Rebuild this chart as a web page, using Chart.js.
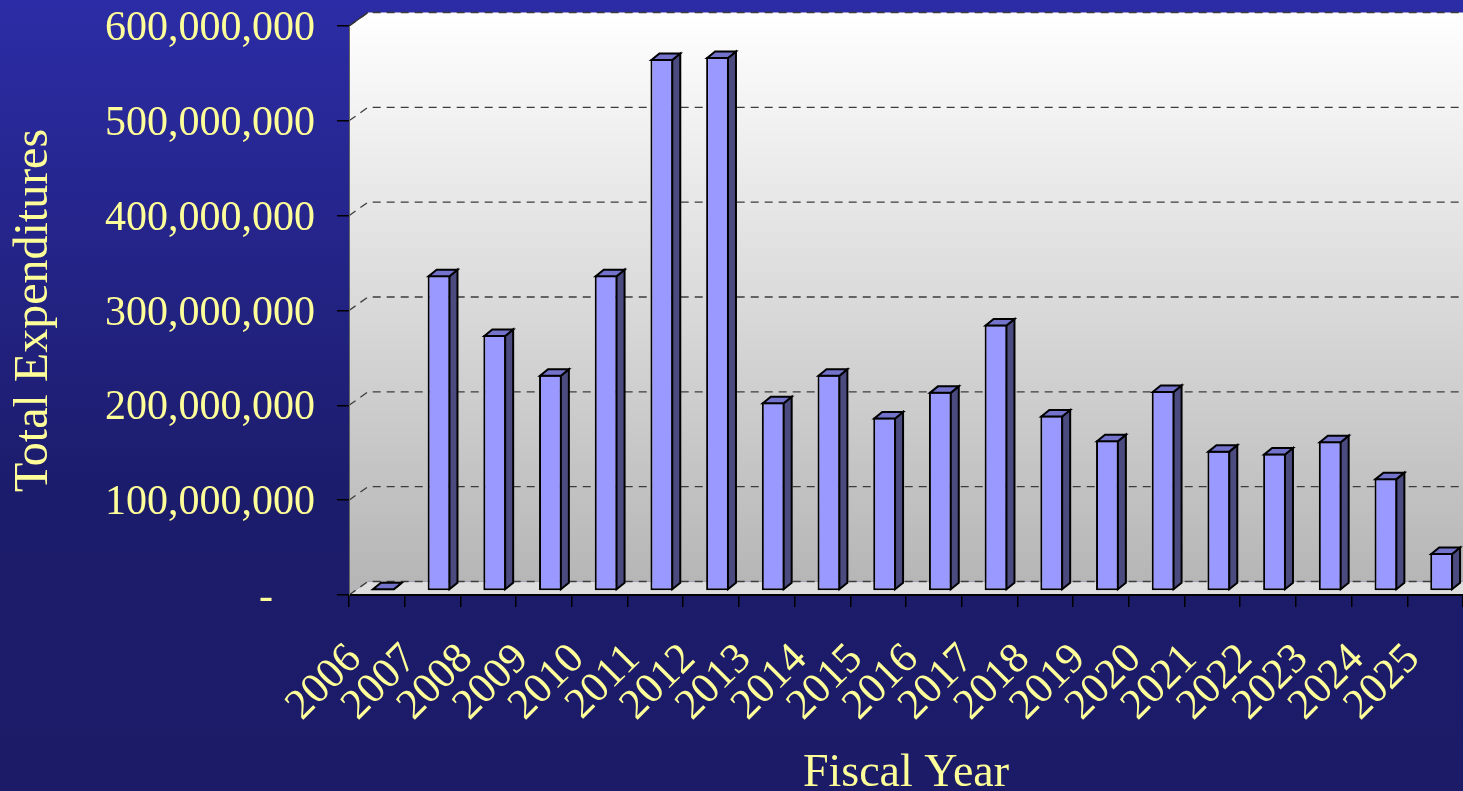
<!DOCTYPE html>
<html>
<head>
<meta charset="utf-8">
<title>Total Expenditures by Fiscal Year</title>
<script src="https://cdn.jsdelivr.net/npm/chart.js@4.4.1/dist/chart.umd.min.js"></script>
<style>
  html, body { margin: 0; padding: 0; background: #1B1B69; overflow: hidden; }
  #wrap { width: 1463px; height: 791px; position: relative; }
  canvas { display: block; }
</style>
</head>
<body>
<div id="wrap"><canvas id="chart" width="1463" height="791"></canvas></div>
<script>
// Fiscal years on the category axis
const fiscalYears = ['2006', '2007', '2008', '2009', '2010', '2011', '2012', '2013', '2014', '2015',
                     '2016', '2017', '2018', '2019', '2020', '2021', '2022', '2023', '2024', '2025'];

// Total expenditures per fiscal year (dollars)
const totalExpenditures = [1000000, 333000000, 270000000, 228000000, 333000000, 561000000, 563000000,
                           199000000, 228000000, 183000000, 210000000, 281000000, 185000000, 159000000,
                           211000000, 148000000, 145000000, 158000000, 119000000, 40000000];

// Value axis ticks and their printed labels
const yTickValues = [0, 100000000, 200000000, 300000000, 400000000, 500000000, 600000000];
const yTickLabels = ['-    ', '100,000,000', '200,000,000', '300,000,000', '400,000,000', '500,000,000', '600,000,000'];

const TEXT = '#FFFF99';
const SERIF = '"Liberation Serif", "Times New Roman", serif';

// Oblique projection used for the walls/floor and for the bar boxes
const WALL = { dx: 19, dy: -13.5 };
const BAR_SHIFT = { dx: 6.5, dy: -4 };
const BAR_DEPTH = { dx: 8, dy: -6.5 };

function poly(ctx, pts) {
  ctx.beginPath();
  ctx.moveTo(pts[0][0], pts[0][1]);
  for (let i = 1; i < pts.length; i++) ctx.lineTo(pts[i][0], pts[i][1]);
  ctx.closePath();
}

const scenePlugin = {
  id: 'scene',
  beforeDraw(chart) {
    const { ctx, chartArea: a, width, height } = chart;
    const yScale = chart.scales.y;
    const L = a.left, R = a.right, T = a.top, B = a.bottom;
    const { dx, dy } = WALL;
    ctx.save();

    // page background
    const bg = ctx.createLinearGradient(0, 0, 0, height);
    bg.addColorStop(0, '#2C2CA6');
    bg.addColorStop(0.62, '#1C1C6C');
    bg.addColorStop(1, '#1B1B68');
    ctx.fillStyle = bg;
    ctx.fillRect(0, 0, width, height);

    // back wall and left side wall
    const wall = ctx.createLinearGradient(0, T + dy, 0, B + dy);
    wall.addColorStop(0, '#FFFFFF');
    wall.addColorStop(1, '#B6B6B6');
    ctx.fillStyle = wall;
    ctx.fillRect(L + dx, T + dy, R - L + 10, B - T);
    poly(ctx, [[L, T], [L + dx, T + dy], [L + dx, B + dy], [L, B]]);
    ctx.fill();

    // floor
    ctx.fillStyle = '#DEDEDE';
    poly(ctx, [[L, B], [L + dx, B + dy], [R + dx + 10, B + dy], [R + 10, B]]);
    ctx.fill();

    // dashed gridlines across the side wall and the back wall
    ctx.strokeStyle = '#3C3C3C';
    ctx.lineWidth = 1.3;
    ctx.setLineDash([8, 6]);
    yTickValues.forEach(v => {
      const py = yScale.getPixelForValue(v);
      ctx.beginPath();
      ctx.moveTo(L, py);
      ctx.lineTo(L + dx, py + dy);
      ctx.lineTo(R + dx + 10, py + dy);
      ctx.stroke();
    });

    // top-left edge of the side wall
    ctx.setLineDash([]);
    ctx.strokeStyle = '#333333';
    ctx.beginPath();
    ctx.moveTo(L, T);
    ctx.lineTo(L + dx, T + dy);
    ctx.stroke();
    ctx.restore();
  },
  beforeDatasetsDraw(chart) {
    chart.ctx.save();
    chart.ctx.translate(BAR_SHIFT.dx, BAR_SHIFT.dy);
  },
  afterDatasetsDraw(chart) {
    const ctx = chart.ctx;
    const meta = chart.getDatasetMeta(0);
    const { dx, dy } = BAR_DEPTH;
    ctx.lineWidth = 2;
    ctx.lineJoin = 'miter';
    ctx.strokeStyle = '#000000';
    meta.data.forEach(bar => {
      const p = bar.getProps(['x', 'y', 'base', 'width'], true);
      const l = p.x - p.width / 2 + 1;
      const r = p.x + p.width / 2 - 1;
      const b = p.base - 1;
      const t = Math.min(p.y + 1, b);
      // side face
      ctx.fillStyle = '#4B4B80';
      poly(ctx, [[r, t], [r + dx, t + dy], [r + dx, b + dy], [r, b]]);
      ctx.fill();
      ctx.stroke();
      // top face
      ctx.fillStyle = '#7373CC';
      poly(ctx, [[l, t], [l + dx, t + dy], [r + dx, t + dy], [r, t]]);
      ctx.fill();
      ctx.stroke();
    });
    ctx.restore();
  }
};

new Chart(document.getElementById('chart'), {
  type: 'bar',
  data: {
    labels: fiscalYears,
    datasets: [{
      label: 'Total Expenditures',
      data: totalExpenditures,
      backgroundColor: '#9999FF',
      borderColor: '#000000',
      borderWidth: 2,
      borderSkipped: false,
      categoryPercentage: 1,
      barPercentage: 0.41,
      clip: false
    }]
  },
  options: {
    responsive: false,
    animation: false,
    devicePixelRatio: 1,
    layout: { padding: { top: 26, right: 0, bottom: 0, left: 0 } },
    plugins: {
      legend: { display: false },
      tooltip: { enabled: false }
    },
    scales: {
      x: {
        offset: true,
        grid: { display: true, drawOnChartArea: false, drawTicks: true, tickLength: 12, color: '#000000', lineWidth: 1.5, offset: true },
        border: { display: true, color: '#000000', width: 2 },
        ticks: {
          color: TEXT,
          font: { family: SERIF, size: 43 },
          maxRotation: 45,
          minRotation: 45,
          autoSkip: false,
          padding: 27,
          labelOffset: -22
        },
        title: {
          display: true,
          text: 'Fiscal Year',
          color: TEXT,
          font: { family: SERIF, size: 46 },
          padding: { top: 0, bottom: -11 }
        },
        afterFit(scale) {
          scale.height = 196;
          scale.paddingLeft = 0;
          scale.paddingRight = 0;
        }
      },
      y: {
        min: 0,
        max: 600000000,
        afterBuildTicks(scale) { scale.ticks = yTickValues.map(v => ({ value: v })); },
        grid: { display: true, drawOnChartArea: false, drawTicks: true, tickLength: 12, color: '#000000', lineWidth: 1.5 },
        border: { display: true, color: '#666666', width: 1 },
        ticks: {
          color: TEXT,
          font: { family: SERIF, size: 42 },
          padding: 22,
          labelOffset: 3,
          callback: (value, index) => yTickLabels[index]
        },
        title: {
          display: true,
          text: 'Total Expenditures',
          color: TEXT,
          font: { family: SERIF, size: 48 },
          padding: { top: 6, bottom: 0 }
        },
        afterFit(scale) {
          scale.width = 349;
          scale.paddingTop = 0;
          scale.paddingBottom = 0;
        }
      }
    }
  },
  plugins: [scenePlugin]
});
</script>
</body>
</html>
